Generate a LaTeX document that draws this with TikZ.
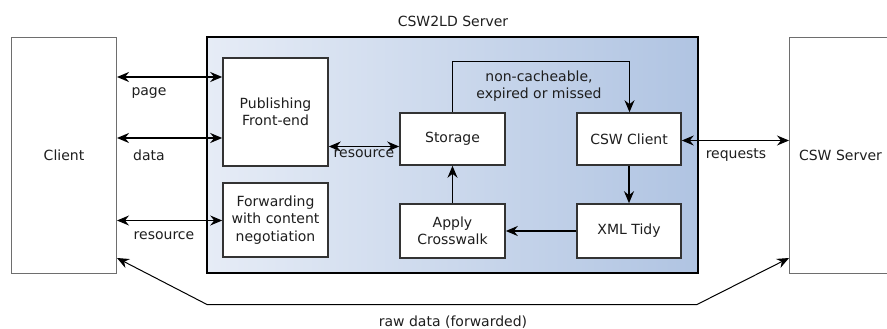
\documentclass[tikz,border=0pt]{standalone}
\usepackage{fontspec}
\setmainfont{DejaVu Sans}
\usetikzlibrary{arrows.meta,shadings}
\definecolor{txt}{RGB}{30,30,30}
\definecolor{srvlight}{RGB}{230,236,246}
\definecolor{srvdark}{RGB}{176,196,226}
\definecolor{outergray}{RGB}{110,110,110}
\tikzset{
  lbl/.style={font={\fontsize{14}{17.5}\selectfont}, text=txt, align=center, inner sep=0pt},
  box/.style={draw=black!80, line width=1.6pt, fill=white, lbl, inner sep=0pt},
  outer/.style={draw=outergray, line width=1pt, fill=white, lbl, inner sep=0pt},
  tip/.style={-{Stealth[length=12pt,width=10pt,inset=4pt]}},
  dtip/.style={{Stealth[length=12pt,width=10pt,inset=4pt]}-{Stealth[length=12pt,width=10pt,inset=4pt]}},
  thick arr/.style={line width=2pt},
  thin arr/.style={line width=1pt},
}
\begin{document}
\begin{tikzpicture}[x=1pt,y=-1pt]
\useasboundingbox (0,0) rectangle (887,329);
% CSW2LD server container
\shade[left color=srvlight, right color=srvdark] (207,37) rectangle (698,273);
\node[draw=black, line width=1.5pt, minimum width=491pt, minimum height=236pt, inner sep=0pt] (srv) at (452.5,155) {};
\node[lbl] (srvtitle) at (453,21) {CSW2LD Server};
% outer boxes
\node[outer, minimum width=105pt, minimum height=236pt] (client) at (64,155.5) {Client};
\node[outer, minimum width=102pt, minimum height=236pt] (cswserver) at (840.5,155.5) {CSW Server};
% inner boxes
\node[box, minimum width=105pt, minimum height=108pt] (pub) at (275.5,112) {Publishing\\Front-end};
\node[box, minimum width=105pt, minimum height=74pt] (fwd) at (275.5,220) {Forwarding\\with content\\negotiation};
\node[box, minimum width=105pt, minimum height=52pt] (storage) at (452.5,139) {Storage};
\node[box, minimum width=104pt, minimum height=52pt] (cswclient) at (629,139) {CSW Client};
\node[box, minimum width=105pt, minimum height=54pt] (apply) at (452.5,231) {Apply\\Crosswalk};
\node[box, minimum width=104pt, minimum height=54pt] (tidy) at (629,231) {XML Tidy};
% client <-> publishing / forwarding
\draw[dtip, thick arr] (client.east |- 0,77) -- (pub.west |- 0,77);
\node[lbl] (lpage) at (149,93) {page};
\draw[dtip, thick arr] (client.east |- 0,138) -- (pub.west |- 0,138);
\node[lbl] (ldata) at (149,155) {data};
\draw[dtip, thin arr] (client.east |- 0,220.5) -- (fwd.west |- 0,220.5);
\node[lbl] (lres1) at (164,236) {resource};
% publishing <-> storage
\draw[dtip, thin arr] (pub.east |- 0,146.5) -- (storage.west |- 0,146.5);
\node[lbl] (lres2) at (364,154) {resource};
% storage -> csw client (miss path)
\coordinate (m1) at (452.5,61.5);
\coordinate (m2) at (629.5,61.5);
\draw[tip, thin arr] (storage.north -| m1) -- (m1) -- (m2) -- (cswclient.north -| m2);
\node[lbl] (lmiss) at (539,86) {non-cacheable,\\expired or missed};
% csw client <-> csw server
\draw[dtip, thin arr] (cswclient.east |- 0,140.5) -- (cswserver.west |- 0,140.5);
\node[lbl] (lreq) at (736,155) {requests};
% processing chain
\draw[tip, thick arr] (cswclient.south) -- (tidy.north);
\draw[tip, thick arr] (tidy.west) -- (apply.east);
\draw[tip, thin arr] (apply.north) -- (storage.south);
% raw data forwarded
\coordinate (r1) at (697,304.5);
\coordinate (r2) at (207,304.5);
\draw[dtip, thin arr] (cswserver.west |- 0,258) -- (r1) -- (r2) -- (client.east |- 0,258);
\node[lbl] (lraw) at (453,322) {raw data (forwarded)};
\end{tikzpicture}
\end{document}
